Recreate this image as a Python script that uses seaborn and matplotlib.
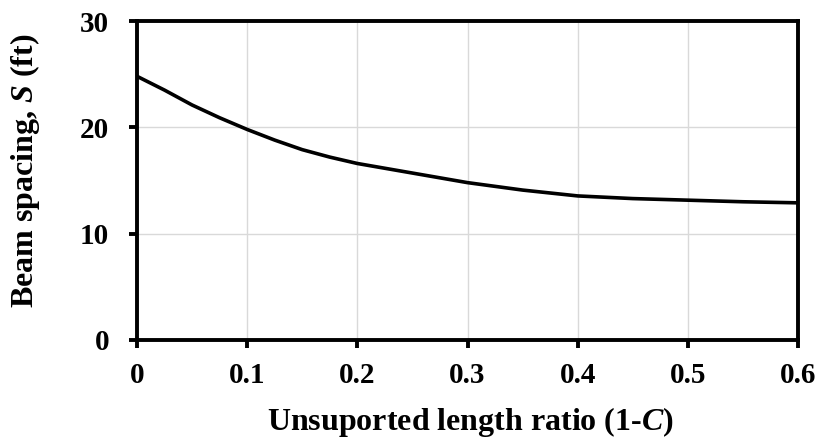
import matplotlib
matplotlib.use("Agg")
import matplotlib.pyplot as plt
import seaborn as sns
import pandas as pd

# Data
ratio = [0.0, 0.025, 0.05, 0.075, 0.10, 0.125, 0.15, 0.175, 0.20, 0.25, 0.30,
         0.35, 0.40, 0.45, 0.50, 0.55, 0.60]
spacing = [24.8, 23.5, 22.1, 20.9, 19.8, 18.8, 17.9, 17.2, 16.6, 15.7, 14.8,
           14.1, 13.55, 13.3, 13.15, 13.0, 12.9]
x_ticks = [0, 0.1, 0.2, 0.3, 0.4, 0.5, 0.6]
x_tick_labels = ["0", "0.1", "0.2", "0.3", "0.4", "0.5", "0.6"]
y_ticks = [0, 10, 20, 30]
y_tick_labels = ["0", "10", "20", "30"]

df = pd.DataFrame({"ratio": ratio, "spacing": spacing})

sns.set_theme(style="white")
plt.rcParams["font.family"] = ["Liberation Serif", "DejaVu Serif"]
plt.rcParams["font.weight"] = "bold"
plt.rcParams["mathtext.fontset"] = "custom"
plt.rcParams["mathtext.it"] = "Liberation Serif:italic:bold"
plt.rcParams["mathtext.rm"] = "Liberation Serif:bold"

W, H = 825, 441
fig = plt.figure(figsize=(W / 100, H / 100), dpi=100)
L, R, T, B = 137, 798, 21, 340
ax = fig.add_axes([L / W, 1 - B / H, (R - L) / W, (B - T) / H])

sns.lineplot(data=df, x="ratio", y="spacing", ax=ax, color="black", linewidth=2.6)
ax.lines[0].set_solid_joinstyle("round")

ax.set_xlim(0, 0.6)
ax.set_ylim(0, 30)
ax.set_xticks(x_ticks)
ax.set_xticklabels(x_tick_labels)
ax.set_yticks(y_ticks)
ax.set_yticklabels(y_tick_labels)
ax.grid(True, color="#d9d9d9", linewidth=1.0)
ax.set_axisbelow(True)

for s in ax.spines.values():
    s.set_visible(True)
    s.set_color("black")
    s.set_linewidth(2.8)

TICK_FS = 21
LABEL_FS = 23
ax.tick_params(axis="both", which="major", direction="out", length=6, width=2.8,
               color="black", labelsize=TICK_FS, labelcolor="black")
ax.tick_params(axis="y", pad=14, left=True)
ax.tick_params(axis="x", pad=10, bottom=True)
for lab in ax.get_xticklabels() + ax.get_yticklabels():
    lab.set_fontweight("bold")

ax.set_xlabel(r"Unsuported length ratio (1-$\mathit{C}$)", fontsize=LABEL_FS, fontweight="bold",
              color="black", va="top")
ax.set_ylabel(r"Beam spacing, $\mathit{S}$ (ft)", fontsize=LABEL_FS, fontweight="bold", color="black",
              va="center")
ax.xaxis.set_label_coords(0.504, -0.204)
ax.yaxis.set_label_coords(-0.17, 0.53)

fig.savefig("out.png", dpi=100)
